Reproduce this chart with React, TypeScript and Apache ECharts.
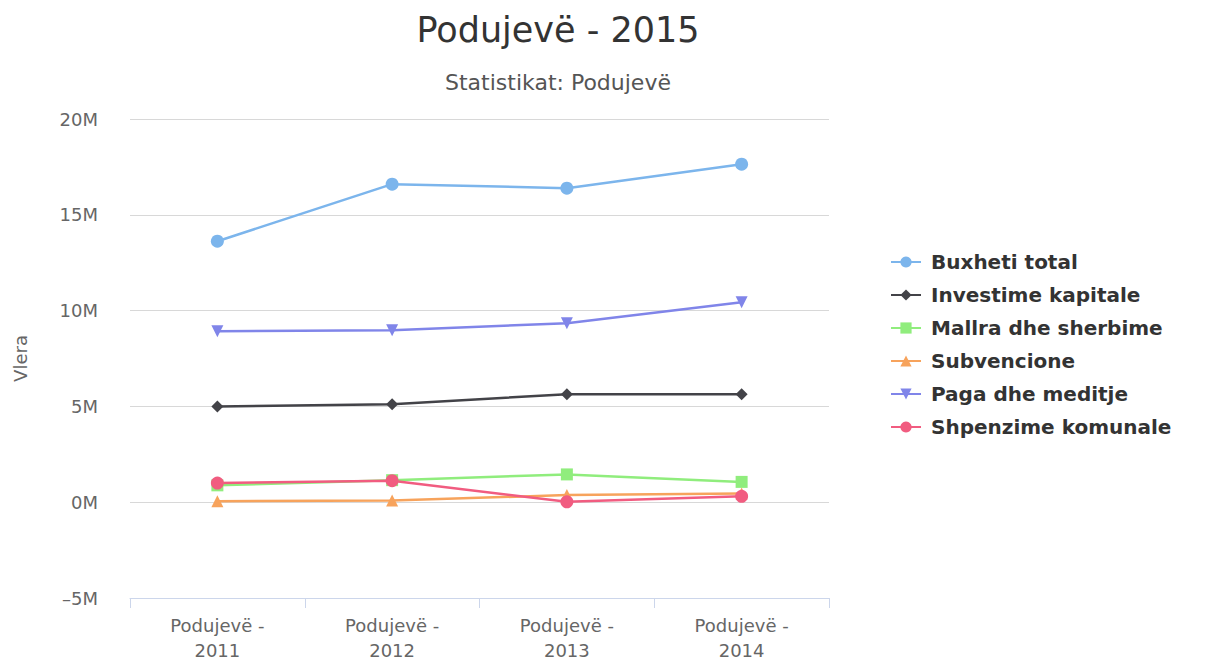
import React, { useEffect, useRef } from "react";
import * as echarts from "echarts";

const categories = ["Podujevë - 2011", "Podujevë - 2012", "Podujevë - 2013", "Podujevë - 2014"];
const buxhetiTotal = [13.62e6, 16.6e6, 16.39e6, 17.64e6];
const investimeKapitale = [5.0e6, 5.11e6, 5.64e6, 5.64e6];
const mallraSherbime = [0.88e6, 1.15e6, 1.45e6, 1.06e6];
const subvencione = [0.05e6, 0.09e6, 0.37e6, 0.45e6];
const pagaMeditje = [8.92e6, 8.98e6, 9.34e6, 10.44e6];
const shpenzimeKomunale = [1.0e6, 1.12e6, 0.02e6, 0.31e6];
const yTicks = { min: -5e6, max: 20e6, interval: 5e6 };

const FONT = "'DejaVu Sans', 'Open Sans', sans-serif";

export default function App() {
  const ref = useRef<HTMLDivElement>(null);
  useEffect(() => {
    const chart = echarts.init(ref.current!, null, { renderer: "svg" });
    const mk = (name: string, data: number[], color: string, symbol: string, size: number, rotate = 0) => ({
      name,
      type: "line",
      data,
      symbol,
      symbolSize: size,
      symbolRotate: rotate,
      lineStyle: { color, width: 2.5 },
      itemStyle: { color },
    });
    chart.setOption({
      animation: false,
      textStyle: { fontFamily: FONT },
      title: {
        text: "Podujevë - 2015",
        subtext: "Statistikat: Podujevë",
        left: 553,
        textAlign: "center",
        top: 6,
        itemGap: 22,
        textStyle: { fontSize: 35, lineHeight: 38, fontWeight: "normal", color: "#333333", fontFamily: FONT },
        subtextStyle: { fontSize: 22, lineHeight: 22, color: "#555555", fontFamily: FONT },
      },
      legend: {
        orient: "vertical",
        left: 885,
        top: 247,
        itemGap: 13,
        itemWidth: 30,
        itemHeight: 14,
        textStyle: {
          fontSize: 20,
          lineHeight: 20,
          fontWeight: "bold",
          color: "#333333",
          fontFamily: FONT,
          padding: [0, 0, 0, 5],
        },
      },
      grid: { left: 130, right: 380, top: 119, bottom: 63, outerBoundsMode: "none" },
      xAxis: {
        type: "category",
        data: categories,
        boundaryGap: true,
        axisLine: { onZero: false, lineStyle: { color: "#ccd6eb" } },
        axisTick: { show: true, length: 10, interval: 0, lineStyle: { color: "#ccd6eb" } },
        axisLabel: {
          color: "#666666",
          fontSize: 18,
          lineHeight: 25,
          margin: 15,
          interval: 0,
          formatter: (v: string) => v.replace(" - ", " -\n"),
        },
      },
      yAxis: {
        type: "value",
        min: yTicks.min,
        max: yTicks.max,
        interval: yTicks.interval,
        name: "Vlera",
        nameLocation: "middle",
        nameGap: 101,
        nameTextStyle: { color: "#666666", fontSize: 18 },
        axisLine: { show: false },
        axisTick: { show: false },
        splitLine: { lineStyle: { color: "#d8d8d8", width: 1 } },
        axisLabel: {
          color: "#666666",
          fontSize: 18,
          margin: 32,
          formatter: (v: number) => (v < 0 ? "\u2013" : "") + Math.abs(v / 1e6) + "M",
        },
      },
      series: [
        mk("Buxheti total", buxhetiTotal, "#7cb5ec", "circle", 13),
        mk("Investime kapitale", investimeKapitale, "#434348", "diamond", 12),
        mk("Mallra dhe sherbime", mallraSherbime, "#90ed7d", "rect", 12),
        mk("Subvencione", subvencione, "#f7a35c", "triangle", 12),
        mk("Paga dhe meditje", pagaMeditje, "#8085e9", "triangle", 12, 180),
        mk("Shpenzime komunale", shpenzimeKomunale, "#f15c80", "circle", 13),
      ],
    });
    return () => chart.dispose();
  }, []);
  return (
    <div
      ref={ref}
      style={{ position: "fixed", left: 0, top: 0, width: 1209, height: 661, background: "#ffffff" }}
    />
  );
}
